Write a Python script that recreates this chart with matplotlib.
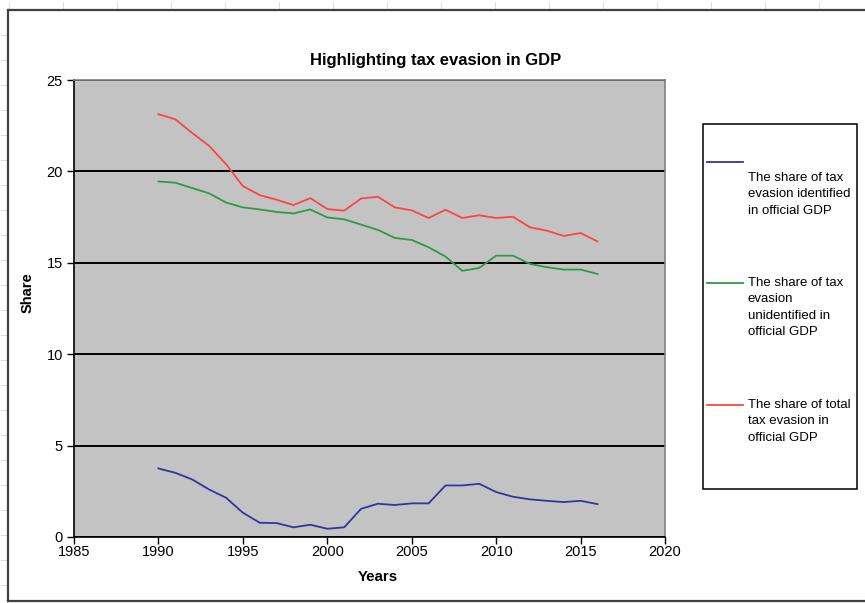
import matplotlib
matplotlib.use("Agg")
import matplotlib.pyplot as plt
from matplotlib.lines import Line2D
from matplotlib.patches import Rectangle

plt.rcParams["font.family"] = ["Liberation Sans", "DejaVu Sans"]

# --- data ------------------------------------------------------------------ #
years = list(range(1990, 2017))
identified = [3.75, 3.51, 3.15, 2.60, 2.15, 1.33, 0.78, 0.76, 0.53, 0.67,
              0.45, 0.53, 1.54, 1.82, 1.75, 1.84, 1.84, 2.82, 2.82, 2.91,
              2.46, 2.20, 2.06, 1.98, 1.91, 1.98, 1.80]
unidentified = [19.45, 19.38, 19.09, 18.80, 18.30, 18.03, 17.92, 17.78, 17.70, 17.92,
                17.48, 17.38, 17.09, 16.80, 16.36, 16.25, 15.85, 15.34, 14.56, 14.72,
                15.39, 15.39, 14.94, 14.76, 14.63, 14.63, 14.39]
total = [23.13, 22.85, 22.10, 21.40, 20.40, 19.20, 18.70, 18.45, 18.16, 18.54,
         17.94, 17.85, 18.52, 18.61, 18.03, 17.87, 17.45, 17.90, 17.45, 17.60,
         17.45, 17.52, 16.94, 16.76, 16.47, 16.63, 16.17]

series_names = [
    ["The share of tax", "evasion identified", "in official GDP"],
    ["The share of tax", "evasion", "unidentified in", "official GDP"],
    ["The share of total", "tax evasion in", "official GDP"],
]
colors = ["#34349a", "#2f9a45", "#ff4444"]

x_ticks = [1985, 1990, 1995, 2000, 2005, 2010, 2015, 2020]
y_ticks = [0, 5, 10, 15, 20, 25]

# --- layout helpers (pixel -> figure fraction) ----------------------------- #
W, H = 865, 603


def fx(px):
    return px / W


def fy(py):
    return 1 - py / H


fig = plt.figure(figsize=(W / 100, H / 100), dpi=100)

# faint spreadsheet cell borders peeking out around the chart
for px in range(9, 865, 54):
    fig.add_artist(Line2D([fx(px), fx(px)], [fy(2), fy(8)], transform=fig.transFigure,
                          color="#dcdcdc", lw=0.7))
for py in range(35, 603, 25):
    fig.add_artist(Line2D([fx(1), fx(6)], [fy(py), fy(py)], transform=fig.transFigure,
                          color="#dcdcdc", lw=0.7))

# chart area border (right side falls off the image)
for xs, ys in [([8, 8], [10, 601]), ([8, 865], [10, 10]), ([8, 865], [601, 601])]:
    fig.add_artist(Line2D([fx(v) for v in xs], [fy(v) for v in ys],
                          transform=fig.transFigure, color="#404040", lw=1.6))

ax = fig.add_axes([fx(74), fy(537), fx(665) - fx(74), fy(80) - fy(537)])
ax.set_facecolor("#c3c3c3")

ax.plot(years, identified, color=colors[0], lw=1.3)
ax.plot(years, unidentified, color=colors[1], lw=1.3)
ax.plot(years, total, color=colors[2], lw=1.3)

ax.set_xlim(1985, 2020)
ax.set_ylim(0, 25)
ax.set_xticks(x_ticks)
ax.set_yticks(y_ticks)
ax.tick_params(direction="out", length=5, width=1, labelsize=10.5, colors="black", pad=3)
ax.tick_params(axis="x", pad=1)
ax.grid(axis="y", color="black", lw=1.4)
ax.set_axisbelow(True)

for side in ["left", "bottom"]:
    ax.spines[side].set_color("black")
    ax.spines[side].set_linewidth(1.2)
for side in ["top", "right"]:
    ax.spines[side].set_color("#808080")
    ax.spines[side].set_linewidth(1.2)

fig.text(fx(436), fy(60), "Highlighting tax evasion in GDP", ha="center", va="center",
         fontsize=12, weight="bold")
fig.text(fx(28), fy(293), "Share", ha="center", va="center", rotation=90,
         fontsize=10.5, weight="bold")
fig.text(fx(378), fy(577), "Years", ha="center", va="center",
         fontsize=10.8, weight="bold")

# --- legend drawn by hand to keep Excel's odd placement -------------------- #
fig.add_artist(Rectangle((fx(703), fy(489)), fx(857) - fx(703), fy(124) - fy(489),
                         transform=fig.transFigure, fill=False, ec="black", lw=1.1))
line_y = [162, 283, 405]
text_y = [178, 283, 405]
for name, c, ly, ty in zip(series_names, colors, line_y, text_y):
    fig.add_artist(Line2D([fx(707), fx(743)], [fy(ly), fy(ly)],
                          transform=fig.transFigure, color=c, lw=1.3))
    for i, part in enumerate(name):
        fig.text(fx(748), fy(ty + 16.3 * i), part, ha="left", va="center", fontsize=9.5)

fig.savefig("out.png", dpi=100)
